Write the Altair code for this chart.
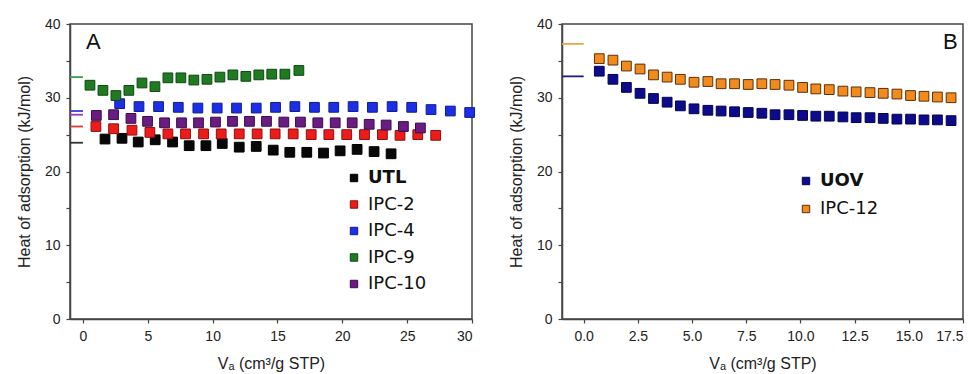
import altair as alt
import pandas as pd

# ---------------- Panel A data ----------------
utl_x = [1.70, 3.01, 4.26, 5.57, 6.91, 8.19, 9.48, 10.74, 12.05, 13.36, 14.67, 15.95, 17.26, 18.55, 19.83, 21.14, 22.45, 23.76]
utl_y = [24.4, 24.5, 24.0, 24.3, 24.0, 23.5, 23.5, 23.8, 23.3, 23.4, 22.9, 22.6, 22.6, 22.5, 22.8, 23.0, 22.7, 22.4]

ipc2_x = [1.00, 2.36, 3.78, 5.16, 6.55, 7.91, 9.30, 10.66, 12.05, 13.43, 14.82, 16.21, 17.60, 18.96, 20.34, 21.71, 23.09, 24.45, 25.82, 27.20]
ipc2_y = [26.1, 25.8, 25.6, 25.3, 25.1, 25.1, 25.1, 25.1, 25.1, 25.1, 25.1, 25.1, 25.0, 25.0, 25.0, 25.0, 25.0, 24.9, 25.0, 24.9]

ipc4_x = [2.83, 4.32, 5.83, 7.35, 8.86, 10.35, 11.84, 13.36, 14.85, 16.34, 17.85, 19.34, 20.83, 22.32, 23.84, 25.35, 26.84, 28.33, 29.82]
ipc4_y = [29.2, 28.8, 28.8, 28.7, 28.6, 28.6, 28.6, 28.6, 28.7, 28.8, 28.7, 28.7, 28.8, 28.7, 28.8, 28.7, 28.4, 28.2, 28.0]

ipc9_x = [0.54, 1.54, 2.54, 3.54, 4.55, 5.55, 6.55, 7.55, 8.55, 9.56, 10.56, 11.56, 12.56, 13.56, 14.56, 15.57, 16.65]
ipc9_y = [31.7, 31.0, 30.3, 31.0, 32.0, 31.5, 32.7, 32.7, 32.4, 32.5, 32.8, 33.1, 32.9, 33.1, 33.2, 33.2, 33.7]

ipc10_x = [1.03, 2.36, 3.70, 4.98, 6.29, 7.60, 8.91, 10.22, 11.53, 12.84, 14.15, 15.49, 16.77, 18.11, 19.45, 20.76, 22.07, 23.38, 24.71, 26.02]
ipc10_y = [27.6, 27.7, 27.2, 26.8, 26.6, 26.6, 26.6, 26.7, 26.8, 26.8, 26.8, 26.7, 26.7, 26.6, 26.6, 26.6, 26.4, 26.3, 26.1, 25.9]

series_a = ["UTL", "IPC-2", "IPC-4", "IPC-9", "IPC-10"]
zero_cov_a = [23.9, 26.1, 28.2, 32.8, 27.7]   # short marks at V=0

# ---------------- Panel B data ----------------
uov_x = [0.72, 1.35, 1.97, 2.60, 3.22, 3.85, 4.46, 5.09, 5.73, 6.34, 6.96, 7.59, 8.22, 8.83, 9.47, 10.10, 10.71, 11.33, 11.96, 12.57, 13.21, 13.82, 14.45, 15.08, 15.70, 16.32, 16.95]
uov_y = [33.6, 32.5, 31.4, 30.6, 29.9, 29.4, 28.9, 28.5, 28.3, 28.2, 28.1, 28.0, 27.9, 27.7, 27.7, 27.6, 27.5, 27.5, 27.4, 27.3, 27.3, 27.2, 27.1, 27.1, 27.0, 27.0, 26.9]

ipc12_x = uov_x
ipc12_y = [35.3, 35.1, 34.3, 33.9, 33.1, 32.8, 32.5, 32.1, 32.2, 31.9, 31.9, 31.8, 31.9, 31.8, 31.7, 31.4, 31.2, 31.1, 30.9, 30.8, 30.7, 30.6, 30.5, 30.3, 30.2, 30.1, 30.0]

series_b = ["UOV", "IPC-12"]
zero_cov_b = [32.9, 37.3]

# ---------------- styles ----------------
fill_a = ["#080808", "#ee1b1b", "#1c2fe6", "#1f7a22", "#6b1c82"]
stroke_a = ["#000000", "#8a1010", "#101c8c", "#0f4812", "#3a0c4a"]
dash_a = ["#333333", "#d83a3a", "#3a3ad8", "#3aa04a", "#9a3ab8"]
fill_b = ["#0b0b8c", "#f28a1e"]
stroke_b = ["#05054a", "#5a3008"]
dash_b = ["#1a1a8a", "#e8a848"]

FONT = "Liberation Sans"
LEG_FONT = "DejaVu Sans"
W_A, W_B, H = 402, 401, 295


def long_df(names, xs, ys):
    rows = []
    for n, xv, yv in zip(names, xs, ys):
        for a, b in zip(xv, yv):
            rows.append({"series": n, "x": a, "y": b})
    return pd.DataFrame(rows)


dfA = long_df(series_a, [utl_x, ipc2_x, ipc4_x, ipc9_x, ipc10_x],
              [utl_y, ipc2_y, ipc4_y, ipc9_y, ipc10_y])
dfB = long_df(series_b, [uov_x, ipc12_x], [uov_y, ipc12_y])
zeroA = pd.DataFrame({"series": series_a, "q": zero_cov_a})
zeroB = pd.DataFrame({"series": series_b, "q": zero_cov_b})

yscale = alt.Scale(domain=[0, 40], nice=False, zero=False)
y_vals = [0, 5, 10, 15, 20, 25, 30, 35, 40]


def panel(df, zero_df, names, fills, strokes, dashes, xdom, xvals, xlabel_expr,
          width, letter, letter_x, leg_x, leg_y_range):
    xscale = alt.Scale(domain=xdom, nice=False, zero=False)
    fill_sc = alt.Scale(domain=names, range=fills)
    stroke_sc = alt.Scale(domain=names, range=strokes)

    x_axis = alt.Axis(values=xvals, labelExpr=xlabel_expr, title="Vₐ (cm³/g STP)",
                      grid=False)
    y_axis = alt.Axis(values=y_vals, labelExpr="datum.value % 10 == 0 ? datum.label : ''",
                      title="Heat of adsorption (kJ/mol)", grid=False)

    pts = alt.Chart(df).mark_point(shape="square", filled=True, size=95,
                                   strokeWidth=1, opacity=1).encode(
        x=alt.X("x:Q", scale=xscale, axis=x_axis),
        y=alt.Y("y:Q", scale=yscale, axis=y_axis),
        fill=alt.Fill("series:N", scale=fill_sc, legend=None),
        stroke=alt.Stroke("series:N", scale=stroke_sc, legend=None),
    )

    rules = alt.Chart(zero_df).mark_rule(strokeWidth=1.8).encode(
        x=alt.datum(-1, scale=xscale),
        x2=alt.datum(0),
        y=alt.Y("q:Q", scale=yscale, axis=None),
        color=alt.Color("series:N", scale=alt.Scale(domain=names, range=dashes), legend=None),
    )

    leg_df = pd.DataFrame({"series": names})
    leg_y = alt.Y("series:N", sort=names, axis=None,
                  scale=alt.Scale(type="point", domain=names, range=leg_y_range, padding=0))
    leg_sym = alt.Chart(leg_df).mark_point(shape="square", filled=True, size=55,
                                           strokeWidth=1, opacity=1).encode(
        x=alt.value(leg_x),
        y=leg_y,
        fill=alt.Fill("series:N", scale=fill_sc, legend=None),
        stroke=alt.Stroke("series:N", scale=stroke_sc, legend=None),
    )
    leg_bold = alt.Chart(leg_df).transform_filter(
        alt.datum.series == names[0]
    ).mark_text(align="left", baseline="middle", font=LEG_FONT, fontSize=18,
                fontWeight="bold", color="#111").encode(
        x=alt.value(leg_x + 14), y=leg_y, text="series:N")
    leg_txt = alt.Chart(leg_df).transform_filter(
        alt.datum.series != names[0]
    ).mark_text(align="left", baseline="middle", font=LEG_FONT, fontSize=18,
                color="#111").encode(
        x=alt.value(leg_x + 14), y=leg_y, text="series:N")

    let = alt.Chart(pd.DataFrame({"t": [letter]})).mark_text(
        align="left", baseline="alphabetic", font=FONT, fontSize=22, color="#111"
    ).encode(x=alt.value(letter_x), y=alt.value(25), text="t:N")

    return alt.layer(rules, pts, leg_sym, leg_bold, leg_txt, let).resolve_scale(
        y="independent").properties(width=width, height=H)


xA_vals = [0, 2.5, 5, 7.5, 10, 12.5, 15, 17.5, 20, 22.5, 25, 27.5, 30]
xB_vals = [0, 1.25, 2.5, 3.75, 5, 6.25, 7.5, 8.75, 10, 11.25, 12.5, 13.75, 15, 16.25, 17.5]

chartA = panel(dfA, zeroA, series_a, fill_a, stroke_a, dash_a, [-1, 30], xA_vals,
               "datum.value % 5 == 0 ? datum.label : ''", W_A, "A", 16, 284, [154, 260])
chartB = panel(dfB, zeroB, series_b, fill_b, stroke_b, dash_b, [-1, 17.5], xB_vals,
               "datum.value % 2.5 == 0 ? format(datum.value, '.1f') : ''", W_B, "B", 381,
               244, [157, 185])

chart = alt.hconcat(chartA, chartB, spacing=29).resolve_scale(
    fill="independent", stroke="independent", color="independent"
).properties(
    padding={"left": 7, "top": 8, "right": 0, "bottom": 0}
).configure_view(
    stroke="#444", strokeWidth=1.5
).configure_axis(
    domainColor="#444", domainWidth=1.5, tickColor="#444", tickWidth=1.2, tickSize=4,
    labelFont=FONT, labelFontSize=14, labelColor="#222", labelPadding=6,
    titleFont=FONT, titleFontSize=16, titleFontWeight="normal", titleColor="#222",
).configure_axisY(titlePadding=12).configure_axisX(titlePadding=12)

chart.save("out.html", embed_options={"renderer": "svg", "actions": False})
